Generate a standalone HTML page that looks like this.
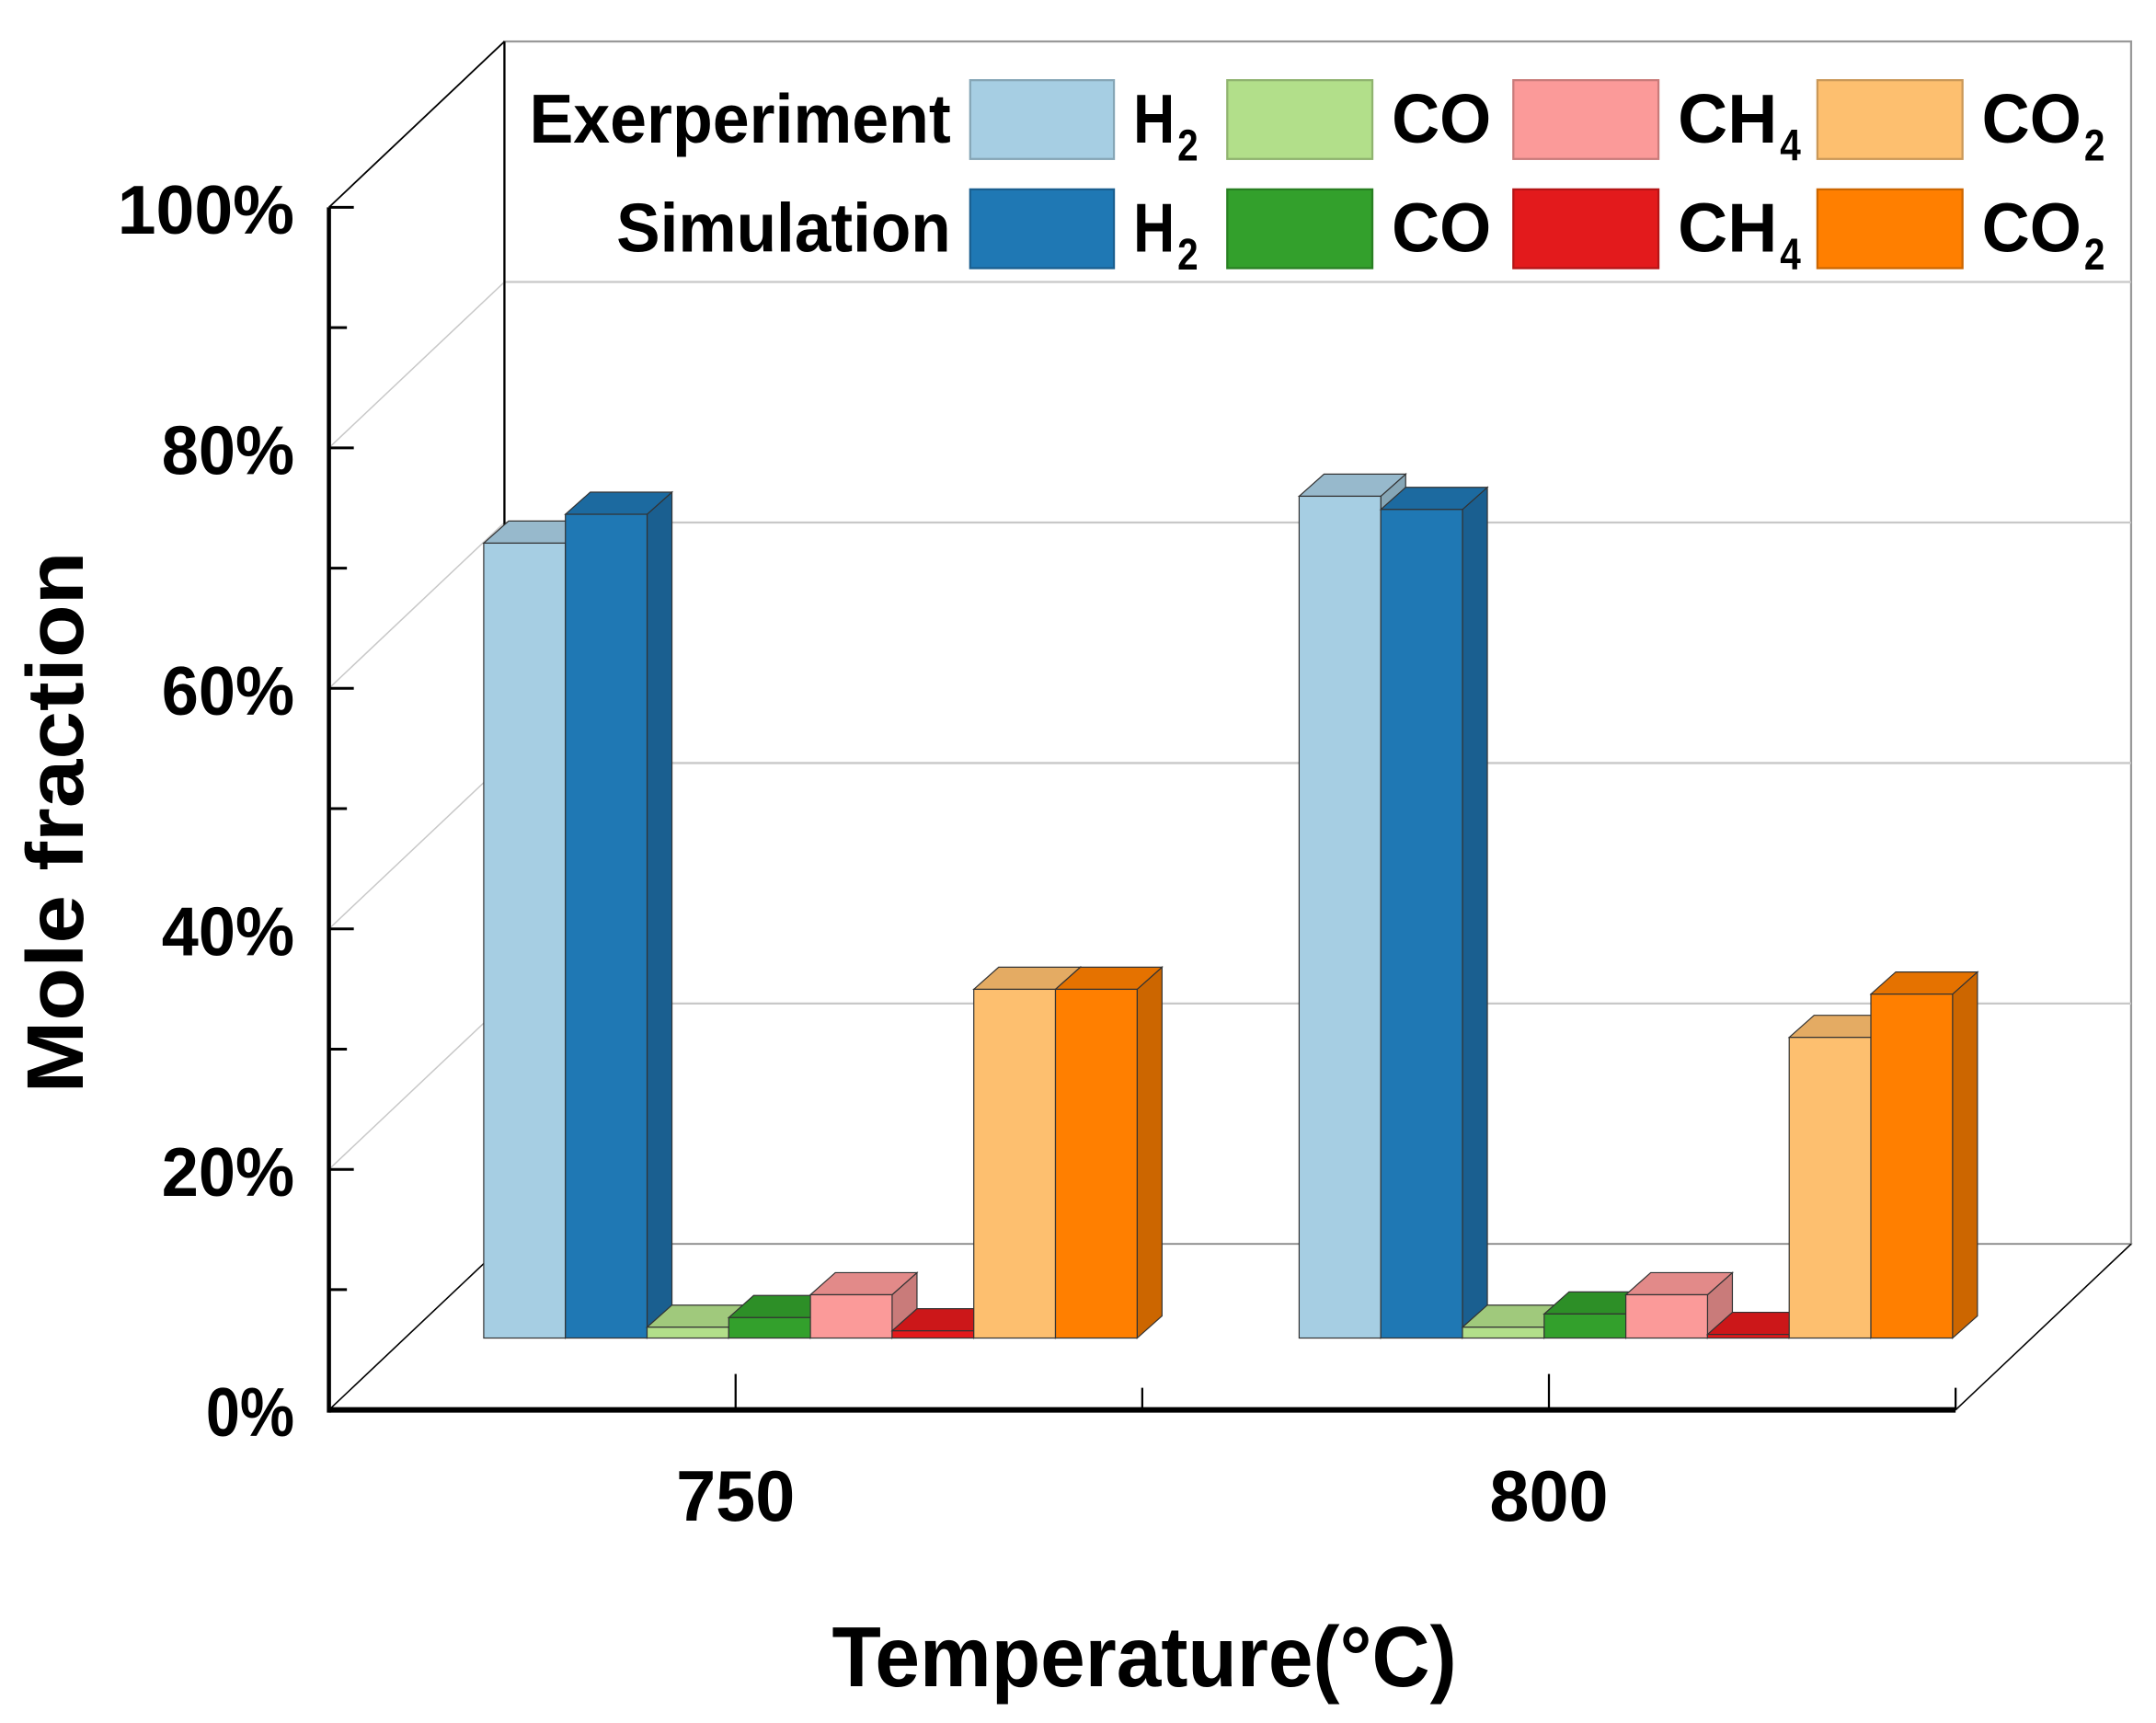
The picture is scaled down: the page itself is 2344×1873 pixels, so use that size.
<!DOCTYPE html>
<html><head><meta charset="utf-8"><style>
html,body{margin:0;padding:0;background:#fff}
svg{display:block}
text{font-family:"Liberation Sans",sans-serif;font-weight:bold;fill:#000}
</style></head><body>
<svg id="chart" width="2344" height="1873" viewBox="0 0 1560 1246.5" preserveAspectRatio="none" xmlns="http://www.w3.org/2000/svg">
<g id="walls"></g>
<g id="bars"></g>
<g id="axes"></g>
<g id="legend"></g>
</svg>
<script>
const categories = ["750", "800"];
const seriesNames = ["Exp H2","Sim H2","Exp CO","Sim CO","Exp CH4","Sim CH4","Exp CO2","Sim CO2"];
const values750 = [66.1, 68.5, 0.9, 1.7, 3.6, 0.6, 29.0, 29.0];
const values800 = [70.0, 68.9, 0.9, 2.0, 3.6, 0.3, 25.0, 28.6];
const yTicks = [0, 20, 40, 60, 80, 100];
const yTickLabels = ["0%", "20%", "40%", "60%", "80%", "100%"];
const allValues = [values750, values800];

const NS = "http://www.w3.org/2000/svg";
const frontFill = ["#a6cee3","#1f78b4","#b2df8a","#33a02c","#fb9a99","#e31a1c","#fdbf6f","#ff7f00"];
const topFill = ["#97b9cc","#1c6aa0","#a0c97c","#2d8f27","#e28a89","#cc1719","#e4ab63","#e57200"];
const sideFill = ["#86a6b6","#1a5f90","#8fb36f","#287f22","#c97b7a","#b51416","#ca9858","#cc6600"];

// geometry
const X0 = 238, X1 = 1415, Y0 = 1020, YUNIT = 8.7; // per percent
const DX = 127, DY = -120; // wall depth
const bdx = 55, bdy = -52; // bar plane depth
const barW = 59.1, tdx = 18, tdy = -16;
const groupStart = [350, 940];
function yv(v){ return Y0 - v*YUNIT; }
function mk(tag, attrs, parent){ const e=document.createElementNS(NS,tag); for(const k in attrs) e.setAttribute(k,attrs[k]); parent.appendChild(e); return e; }

const walls = document.getElementById('walls');
// back panel
let bp = mk('rect',{x:X0+DX,y:Y0+DY-100*YUNIT,width:X1-X0,height:100*YUNIT,fill:'#fff',stroke:'#999','stroke-width':1.5},walls);


// floor
let fl = mk('polygon',{points:`${X0},${Y0} ${X1},${Y0} ${X1+DX},${Y0+DY} ${X0+DX},${Y0+DY}`,fill:'#fff',stroke:'#888','stroke-width':1},walls);


yTicks.forEach((t,i)=>{
  if(t===0||t===100) return;
  let g = mk('line',{x1:X0+DX,y1:yv(t)+DY,x2:X1+DX,y2:yv(t)+DY,stroke:'#c8c8c8','stroke-width':1.5},walls);
  
  
  let d = mk('line',{x1:X0,y1:yv(t),x2:X0+DX,y2:yv(t)+DY,stroke:'#c8c8c8','stroke-width':1},walls);
  
  
});
mk('line',{x1:X0+DX,y1:yv(100)+DY,x2:X0+DX,y2:Y0+DY,stroke:'#000','stroke-width':1.5},walls);
mk('line',{x1:X0,y1:yv(100),x2:X0+DX,y2:yv(100)+DY,stroke:'#000','stroke-width':1.2},walls);
mk('line',{x1:X0,y1:Y0,x2:X0+DX,y2:Y0+DY,stroke:'#000','stroke-width':1},walls);
mk('line',{x1:X1,y1:Y0,x2:X1+DX,y2:Y0+DY,stroke:'#000','stroke-width':1},walls);

// bars
const bars = document.getElementById('bars');
const baseY = Y0 + bdy;
allValues.forEach((vals,gi)=>{
  vals.forEach((v,si)=>{
    const x = groupStart[gi] + si*barW;
    const top = baseY - v*YUNIT;
    const g = mk('g',{},bars);
    
    
    mk('polygon',{points:`${x+barW},${top} ${x+barW+tdx},${top+tdy} ${x+barW+tdx},${baseY+tdy} ${x+barW},${baseY}`,fill:sideFill[si],stroke:'#333','stroke-width':0.8},g);
    mk('polygon',{points:`${x},${top} ${x+tdx},${top+tdy} ${x+barW+tdx},${top+tdy} ${x+barW},${top}`,fill:topFill[si],stroke:'#333','stroke-width':0.8},g);
    mk('rect',{x:x,y:top,width:barW,height:v*YUNIT,fill:frontFill[si],stroke:'#333','stroke-width':0.8},g);
  });
});

// axes
const axes = document.getElementById('axes');
let ya = mk('line',{x1:X0,y1:yv(100),x2:X0,y2:Y0+2,stroke:'#000','stroke-width':3},axes);


let xa = mk('line',{x1:X0,y1:Y0,x2:X1,y2:Y0,stroke:'#000','stroke-width':4},axes);


for(let t=0;t<=100;t+=10){
  mk('line',{x1:X0,y1:yv(t),x2:X0+(t%20===0?18:13),y2:yv(t),stroke:'#000','stroke-width':2},axes);
}
yTicks.forEach((t,i)=>{
  const tx = mk('text',{x:213,y:yv(t)+19,'text-anchor':'end','font-size':50,textLength:yTickLabels[i].length*32,lengthAdjust:'spacingAndGlyphs'},axes);
  tx.textContent = yTickLabels[i];
  
  
});
const catW = (X1-X0)/4;
[1,2,3,4].forEach(k=>{
  const x = X0 + k*catW;
  mk('line',{x1:x,y1:Y0,x2:x,y2:Y0-(k%2===1?26:16),stroke:'#000','stroke-width':1.5},axes);
});
categories.forEach((c,i)=>{
  const tx = mk('text',{x:X0+(1+2*i)*catW,y:1100,'text-anchor':'middle','font-size':52,textLength:86,lengthAdjust:'spacingAndGlyphs'},axes);
  tx.textContent = c;
  
  
});
let xt = mk('text',{x:828,y:1220,'text-anchor':'middle','font-size':62,textLength:452,lengthAdjust:'spacingAndGlyphs'},axes);
xt.textContent = 'Temperature(°C)';


let yt = mk('text',{x:0,y:0,'text-anchor':'middle','font-size':58,textLength:392,lengthAdjust:'spacingAndGlyphs',transform:'translate(60,595) rotate(-90)'},axes);
yt.textContent = 'Mole fraction';



// legend
const legend = document.getElementById('legend');
const rowY = [58, 137];
const rowLabels = ['Exerperiment','Simulation'];
const rowLabelW = [305, 242];
const swX = [702, 888, 1095, 1315];
const swW = [104, 105, 105, 105];
const gas = [['H','2'],['CO',''],['CH','4'],['CO','2']];
const gasW = [30, 72, 72, 72];
rowLabels.forEach((lab,r)=>{
  const t = mk('text',{x:688,y:rowY[r]+45,'text-anchor':'end','font-size':50,textLength:rowLabelW[r],lengthAdjust:'spacingAndGlyphs'},legend);
  t.textContent = lab;
  
  
  for(let k=0;k<4;k++){
    const si = k*2 + r;
    const s = mk('rect',{x:swX[k],y:rowY[r],width:swW[k],height:57,fill:frontFill[si],stroke:sideFill[si],'stroke-width':1.5},legend);
    
    
    const lx = swX[k]+swW[k]+14;
    const lt = mk('text',{x:lx,y:rowY[r]+45,'font-size':50,textLength:gasW[k],lengthAdjust:'spacingAndGlyphs'},legend);
    lt.textContent = gas[k][0];
    
    
    if(gas[k][1]){
      const st = mk('text',{x:lx+gasW[k]+2,y:rowY[r]+58,'font-size':32,textLength:15,lengthAdjust:'spacingAndGlyphs'},legend);
      st.textContent = gas[k][1];
      
      
    }
  }
});
</script>
</body></html>
